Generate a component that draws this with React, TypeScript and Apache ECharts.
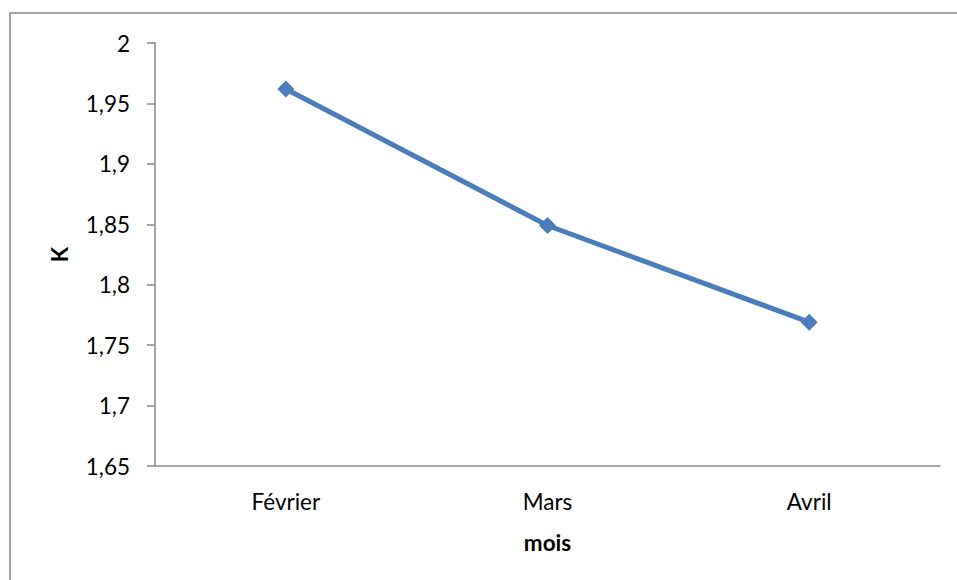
import React, { useEffect, useRef } from "react";
import * as echarts from "echarts";

const months = ["Février", "Mars", "Avril"];
const kValues = [1.962, 1.849, 1.769];
const yMin = 1.65;
const yMax = 2;
const yStep = 0.05;

const fontFamily = "Lato, 'Open Sans', sans-serif";
const fontSize = 22.5;

export default function App() {
  const ref = useRef<HTMLDivElement>(null);

  useEffect(() => {
    if (!ref.current) return;
    const chart = echarts.init(ref.current, null, { renderer: "svg" });
    chart.setOption({
      animation: false,
      backgroundColor: "#ffffff",
      graphic: [
        {
          type: "rect",
          shape: { x: 10, y: 13, width: 980, height: 620 },
          style: { fill: "none", stroke: "#868686", lineWidth: 1.5 },
          silent: true,
        },
      ],
      grid: { left: 155, top: 43, right: 17, bottom: 114 },
      xAxis: {
        type: "category",
        data: months,
        boundaryGap: true,
        name: "mois",
        nameLocation: "middle",
        nameGap: 65,
        nameTextStyle: { fontFamily, fontSize, fontWeight: "bold", color: "#000" },
        axisLine: { lineStyle: { color: "#868686", width: 1.5 } },
        axisTick: { show: false },
        axisLabel: { fontFamily, fontSize, color: "#000", margin: 24 },
        splitLine: { show: false },
      },
      yAxis: {
        type: "value",
        min: yMin,
        max: yMax,
        interval: yStep,
        name: "K",
        nameLocation: "middle",
        nameGap: 84,
        nameRotate: 90,
        nameTextStyle: { fontFamily, fontSize, fontWeight: "bold", color: "#000" },
        axisLine: { show: true, lineStyle: { color: "#868686", width: 1.5 } },
        axisTick: { show: true, length: 8, lineStyle: { color: "#868686", width: 1.5 } },
        axisLabel: {
          fontFamily,
          fontSize,
          color: "#000",
          margin: 25,
          formatter: (v: number) => String(Math.round(v * 100) / 100).replace(".", ","),
        },
        splitLine: { show: false },
      },
      series: [
        {
          type: "line",
          data: kValues,
          symbol: "diamond",
          symbolSize: 17,
          lineStyle: { color: "#4a7ebb", width: 5 },
          itemStyle: { color: "#4a7ebb" },
        },
      ],
    });
    return () => chart.dispose();
  }, []);

  return (
    <div
      ref={ref}
      style={{ position: "absolute", left: 0, top: 0, width: 957, height: 580 }}
    />
  );
}
